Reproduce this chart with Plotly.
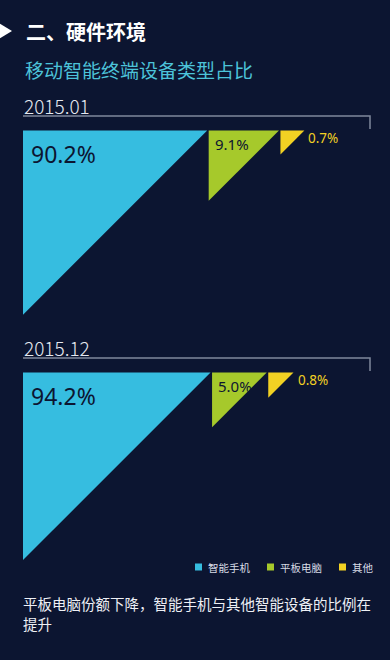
import plotly.graph_objects as go

# ---------------- data ----------------
categories = ["智能手机", "平板电脑", "其他"]
periods = ["2015.01", "2015.12"]
share_2015_01 = [90.2, 9.1, 0.7]
share_2015_12 = [94.2, 5.0, 0.8]
title_text = "二、硬件环境"
subtitle_text = "移动智能终端设备类型占比"
note_lines = ["平板电脑份额下降，智能手机与其他智能设备的比例在", "提升"]

# ---------------- style / layout ----------------
W, H = 390, 660
BG = "#0C1531"
COLORS = ["#36BDE0", "#A6C92B", "#F2D123"]
CJK = "Noto Sans CJK SC"
NUM = "Noto Sans"
LEFT = 23
RIGHT = 370
K, P = 27.8, 0.42          # triangle side = K * value**P (px)
GAP = 1.5
PANEL_TOPS = [130.5, 372.5]

fig = go.Figure()
annotations = []
shapes = []

# header arrow
shapes.append(dict(type="path", path="M -3 22 L 12 31 L -3 40 Z",
                   fillcolor="white", line=dict(width=0), xref="x", yref="y"))
annotations.append(dict(x=24, y=31, text=f"<b>{title_text}</b>", showarrow=False,
                        xanchor="left", yanchor="middle",
                        font=dict(family=CJK, size=20, color="white")))
annotations.append(dict(x=23, y=69, text=subtitle_text, showarrow=False,
                        xanchor="left", yanchor="middle",
                        font=dict(family=CJK, size=19, color="#4CC3D9")))

series = [share_2015_01, share_2015_12]
for p, (period, vals) in enumerate(zip(periods, series)):
    top = PANEL_TOPS[p]
    line_y = top - 14.5
    annotations.append(dict(x=22, y=top - 25, text=period, showarrow=False,
                            xanchor="left", yanchor="middle",
                            font=dict(family=CJK, size=19, color="#E6E9F0", weight=300)))
    shapes.append(dict(type="path",
                       path=f"M {LEFT} {line_y} L {RIGHT} {line_y} L {RIGHT} {top - 1.5}",
                       line=dict(color="#7F889C", width=1.5), xref="x", yref="y"))
    x0 = LEFT
    for i, v in enumerate(vals):
        side = K * v ** P
        fig.add_trace(go.Scatter(
            x=[x0, x0 + side, x0, x0], y=[top, top, top + side, top],
            mode="lines", fill="toself", fillcolor=COLORS[i],
            line=dict(width=0, color=COLORS[i]), hoverinfo="skip",
            showlegend=False))
        label = f"{v:.1f}%"
        if i == 0:
            annotations.append(dict(x=x0 + 6, y=top + 23, text=label, showarrow=False,
                                    xanchor="left", yanchor="middle",
                                    font=dict(family=NUM, size=23, color=BG)))
        elif i == 1:
            annotations.append(dict(x=x0 + 4, y=top + 13, text=label, showarrow=False,
                                    xanchor="left", yanchor="middle",
                                    font=dict(family=NUM, size=15, color=BG)))
        else:
            annotations.append(dict(x=x0 + side + 2, y=top + 7, text=label, showarrow=False,
                                    xanchor="left", yanchor="middle",
                                    font=dict(family=NUM, size=13.5, color=COLORS[2])))
        x0 += side + GAP

# legend (manual)
lx, ly = 195, 567
for i, cat in enumerate(categories):
    shapes.append(dict(type="rect", x0=lx, x1=lx + 7, y0=ly - 3.5, y1=ly + 3.5,
                       fillcolor=COLORS[i], line=dict(width=0), xref="x", yref="y"))
    annotations.append(dict(x=lx + 11, y=ly, text=cat, showarrow=False,
                            xanchor="left", yanchor="middle",
                            font=dict(family=CJK, size=10.5, color="#D8DCE6")))
    lx += 11 + len(cat) * 10.5 + 19

for j, line in enumerate(note_lines):
    annotations.append(dict(x=22, y=603 + 20.5 * j, text=line, showarrow=False,
                            xanchor="left", yanchor="middle", align="left", borderpad=0,
                            font=dict(family=CJK, size=14.5, color="#EEF0F5")))

fig.update_layout(
    width=W, height=H, margin=dict(l=0, r=0, t=0, b=0),
    paper_bgcolor=BG, plot_bgcolor=BG,
    xaxis=dict(range=[0, W], visible=False, fixedrange=True),
    yaxis=dict(range=[H, 0], visible=False, fixedrange=True),
    annotations=annotations, shapes=shapes, showlegend=False,
)
fig.write_html(
    "out.html",
    config={"displayModeBar": False},
    post_script="document.body.style.margin='0';document.body.style.padding='0';"
                "document.documentElement.style.background='" + BG + "';",
)
